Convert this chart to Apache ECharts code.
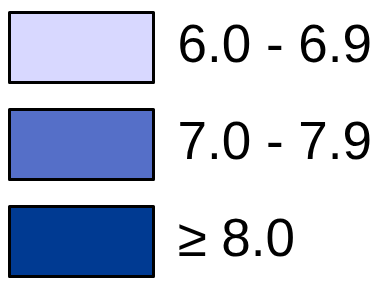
<!DOCTYPE html>
<html>
<head>
<meta charset="utf-8">
<script src="https://cdn.jsdelivr.net/npm/echarts@6/dist/echarts.min.js"></script>
<style>
  html, body { margin: 0; padding: 0; background: #fff; }
  #chart { width: 385px; height: 286px; }
</style>
</head>
<body>
<div id="chart"></div>
<script>
// Legend classes and their fill colours
const classes = ['6.0 - 6.9', '7.0 - 7.9', '\u2265 8.0'];
const classColors = ['#d8d8ff', '#556fc8', '#003a92'];
const classCounts = [1, 1, 1];

const chart = echarts.init(document.getElementById('chart'));

chart.setOption({
    animation: false,
    legend: {
        orient: 'vertical',
        left: 8,
        top: 11,
        padding: 0,
        height: 284,
        icon: 'rect',
        itemWidth: 144,
        itemHeight: 70,
        itemGap: 24,
        selectedMode: false,
        itemStyle: { borderColor: '#000', borderWidth: 3 },
        textStyle: {
            fontFamily: 'Liberation Sans, Arial, sans-serif',
            fontSize: 53,
            color: '#000',
            padding: [0, 0, 0, 19]
        },
        data: classes
    },
    series: [{
        type: 'pie',
        radius: [0, 0],
        center: [-100, -100],
        label: { show: false },
        silent: true,
        data: classes.map((name, i) => ({
            name: name,
            value: classCounts[i],
            itemStyle: { color: classColors[i] }
        }))
    }]
});
</script>
</body>
</html>
